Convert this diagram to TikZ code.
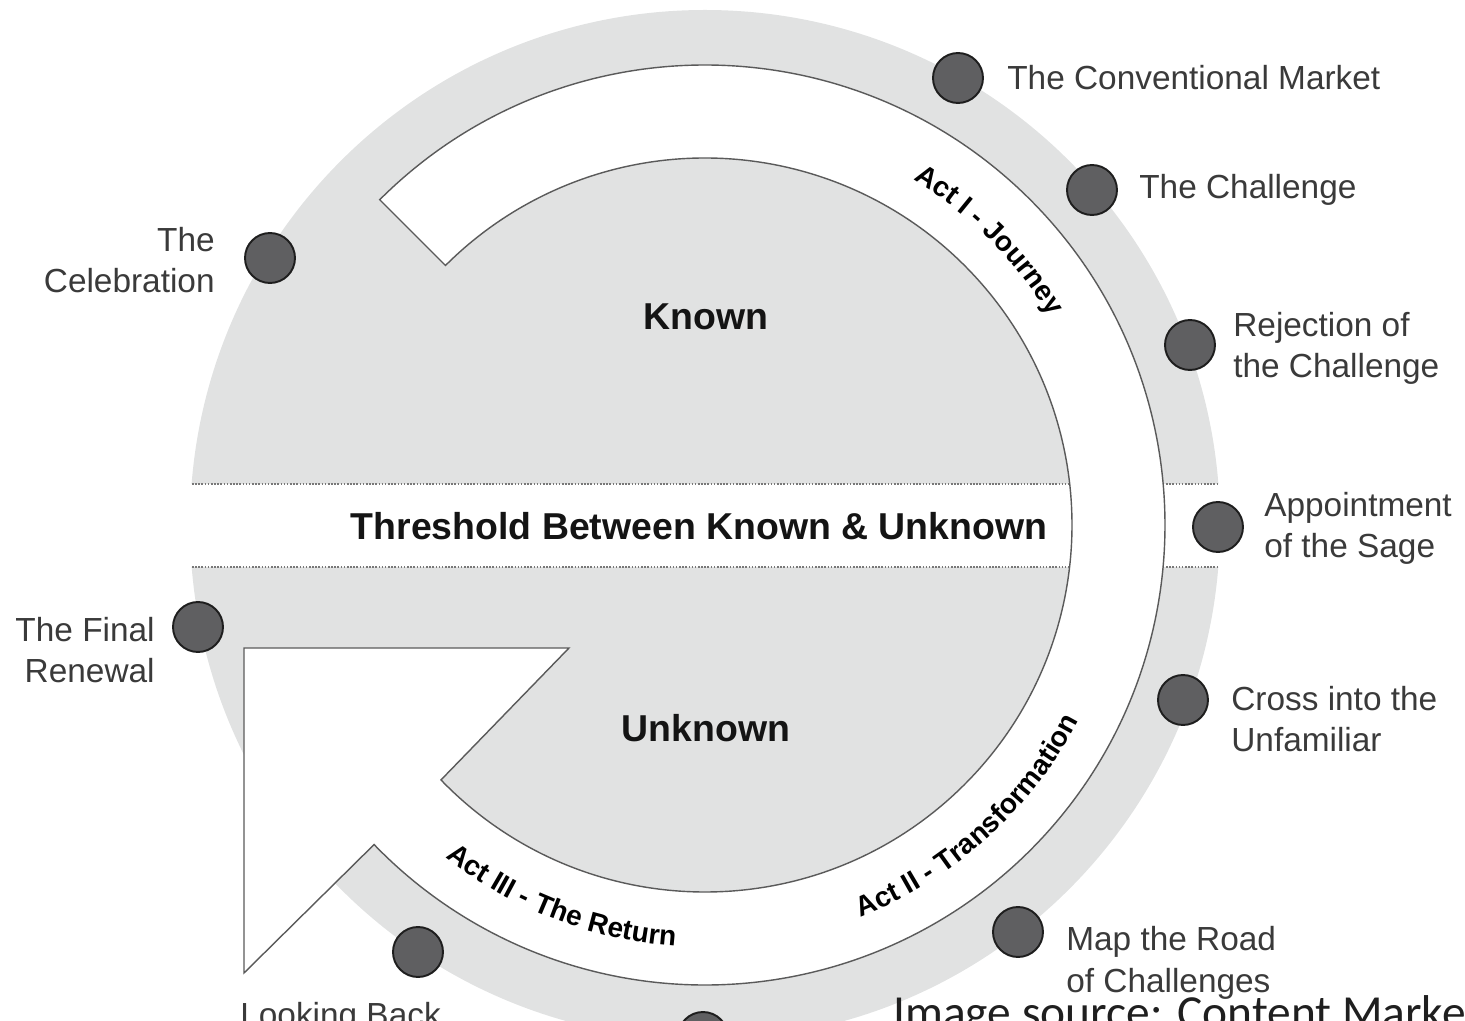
\documentclass[tikz,border=0pt]{standalone}
\usepackage{fontspec}
\setmainfont{Liberation Sans}
\newfontfamily\srcfont{Carlito}
\usetikzlibrary{decorations.text}
\definecolor{ringgray}{RGB}{225,226,226}
\definecolor{dotgray}{RGB}{95,95,97}
\definecolor{dotline}{RGB}{30,30,30}
\definecolor{bandgray}{RGB}{90,90,90}
\definecolor{lblgray}{RGB}{58,58,58}
\definecolor{threshgray}{RGB}{120,120,120}
\newcommand\actfont{\fontsize{16}{16}\selectfont\bfseries}
\begin{document}
\begin{tikzpicture}[x=0.02cm,y=0.02cm,
  dot/.style={circle, fill=dotgray, draw=dotline, line width=1.1pt, minimum size=1cm, inner sep=0pt},
  lbl/.style={text=lblgray, font=\fontsize{19}{23.5}\selectfont, inner sep=0pt},
  big/.style={text=black!92, font=\fontsize{21.3}{25}\selectfont\bfseries, inner sep=0pt},
  bandline/.style={draw=bandgray, line width=0.8pt, fill=white, line join=miter},
  threshline/.style={draw=threshgray, line width=0.7pt, dash pattern=on 0.9pt off 0.9pt}]
\useasboundingbox (-705,-496) rectangle (760,525);
\clip (-705,-496) rectangle (760,525);
% outer grey disk
\fill[ringgray] (0,0) circle[radius=515];
% threshold band
\fill[white] (-516,-42) rectangle (516,41);
\draw[threshline] (-513,41) -- (513,41);
\draw[threshline] (-513,-42) -- (513,-42);
% journey band with arrowhead
\path[bandline] (135:460) arc[start angle=135, end angle=-136, radius=460]
  -- (-461,-448) -- (-461,-123) -- (-136,-123) -- (-136:367)
  arc[start angle=-136, end angle=135, radius=367] -- cycle;
% act labels along the band
\path[decorate, decoration={text along path, text align=center,
  text={|\actfont|Act I - Journey}}] (80:403) arc[start angle=80, end angle=10, radius=403];
\path[decorate, decoration={text along path, text align=center,
  text={|\actfont|Act II - Transformation}}] (-83:422) arc[start angle=-83, end angle=-13, radius=422];
\path[decorate, decoration={text along path, text align=center,
  text={|\actfont|Act III - The Return}}] (-146:422) arc[start angle=-146, end angle=-76, radius=422];
% central labels
\node[big] (known) at (1,208) {Known};
\node[big] (unknown) at (1,-203) {Unknown};
\node[big] (threshold) at (-6,-1) {Threshold Between Known \& Unknown};
% stage dots
\node[dot] (d1) at (253,447) {};
\node[dot] (d2) at (387,335) {};
\node[dot] (d3) at (485,180) {};
\node[dot] (d4) at (513,-2) {};
\node[dot] (d5) at (478,-175) {};
\node[dot] (d6) at (313,-407) {};
\node[dot] (d7) at (-2,-512) {};
\node[dot] (d8) at (-287,-427) {};
\node[dot] (d9) at (-507,-102) {};
\node[dot] (d10) at (-435,267) {};
% stage labels
\node[lbl, anchor=base west] (l1) at (302,435) {The Conventional Market};
\node[lbl, anchor=base west] (l2) at (434,326) {The Challenge};
\node[lbl, anchor=base west, align=left] (l3) at (528,147) {Rejection of\\the Challenge};
\node[lbl, anchor=base west, align=left] (l4) at (559,-33) {Appointment\\of the Sage};
\node[lbl, anchor=base west, align=left] (l5) at (526,-227) {Cross into the\\Unfamiliar};
\node[lbl, anchor=base west, align=left] (l6) at (361,-467) {Map the Road\\of Challenges};
\node[lbl, anchor=base west] (l8) at (-465,-501) {Looking Back};
\node[lbl, anchor=base east, align=right] (l9) at (-550,-158) {The Final\\Renewal};
\node[lbl, anchor=base east, align=right] (l10) at (-490,232) {The\\Celebration};
% source note
\node[anchor=base west, inner sep=0pt, text=black!88, font=\srcfont\fontsize{27}{30}\selectfont] (src) at (188,-503) {Image source: Content Marketing};
\end{tikzpicture}
\end{document}
